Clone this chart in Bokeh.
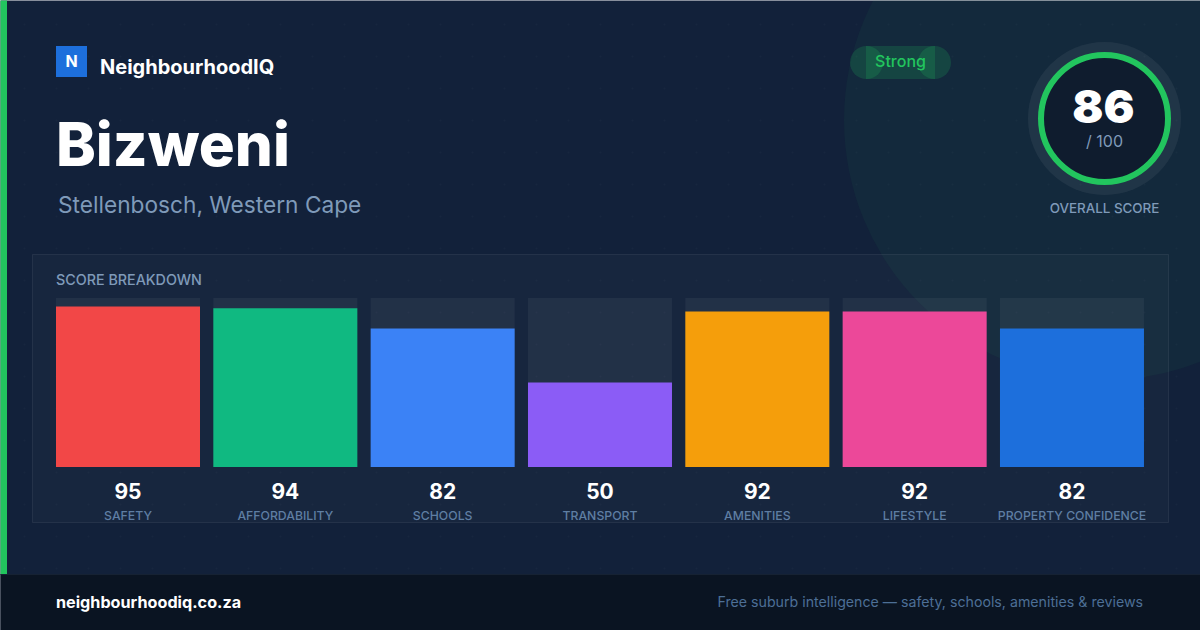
from bokeh.core.properties import value
from bokeh.embed import file_html
from bokeh.models import Range1d
from bokeh.plotting import figure
from bokeh.resources import INLINE
import numpy as np

# chart data
categories = ["SAFETY", "AFFORDABILITY", "SCHOOLS", "TRANSPORT", "AMENITIES", "LIFESTYLE", "PROPERTY CONFIDENCE"]
scores = [95, 94, 82, 50, 92, 92, 82]
bar_colors = ["#f24747", "#10b981", "#3b82f6", "#8b5cf6", "#f59e0b", "#ec4899", "#1d6fdc"]
track_max = [100, 100, 100, 100, 100, 100, 100]
overall = 86

W, H = 1200, 630
OFFSET = 0.5  # the photographed frame sits a little down and right
BAR_BOTTOM, BAR_TOP = 467, 298
px_per_point = (BAR_BOTTOM - BAR_TOP) / 100
FIRST_BAR, PITCH = 128, 157.33
slots = list(range(len(categories)))

# the page coordinates are the main ranges, bars get their own scales
p = figure(width=W, height=H, output_backend="svg", toolbar_location=None,
           x_range=Range1d(OFFSET, W + OFFSET), y_range=Range1d(H + OFFSET, OFFSET),
           min_border=0, outline_line_color=None)
p.axis.visible = False
p.grid.visible = False
p.background_fill_color = "#12213a"
p.border_fill_color = "#12213a"

p.extra_x_ranges = {"slot": Range1d((OFFSET - FIRST_BAR) / PITCH, (W + OFFSET - FIRST_BAR) / PITCH)}
p.extra_y_ranges = {"score": Range1d((BAR_BOTTOM - H - OFFSET) / px_per_point, (BAR_BOTTOM - OFFSET) / px_per_point)}


def txt(x, y, s, size, color, font="Inter", style="normal", align="left", **kw):
    # alphabetic baseline lands about 0.4em low in the svg output
    p.text(x=[x], y=[y - 0.4 * size], text=[s], text_font=value(font), text_font_size=f"{size}px",
           text_font_style=style, text_color=color, text_align=align,
           text_baseline="alphabetic", **kw)


# backdrop: big tinted circle, dot pattern
p.circle(x=[1104], y=[120], radius=260, fill_color="#22c55e", fill_alpha=0.05, line_color=None)
dx, dy = np.meshgrid(np.arange(24, W, 32), np.arange(24, 574, 32))
p.rect(x=dx.ravel() + 0.5, y=dy.ravel() + 0.5, width=2, height=2, fill_color="#ffffff", fill_alpha=0.025, line_color=None)

# green stripe and footer
p.quad(left=[0], right=[7], top=[0], bottom=[574], fill_color="#22c55e", line_color=None)
p.quad(left=[0], right=[W + OFFSET], top=[574], bottom=[H + OFFSET], fill_color="#0a1422", line_color=None)
p.quad(left=[0], right=[W + OFFSET], top=[574], bottom=[575], fill_color="#162233", line_color=None)

# header
p.quad(left=[56], right=[87], top=[46], bottom=[77], fill_color="#1d6fdc", line_color=None)
txt(71.5, 67, "N", 16, "#ffffff", style="bold", align="center")
txt(100, 75, "NeighbourhoodIQ", 20, "#ffffff", style="bold")
txt(56, 168, "Bizweni", 60, "#ffffff", font="Inter ExtraBold")
txt(58, 214, "Stellenbosch, Western Cape", 22.7, "#7f9ab9")

# badge
p.quad(left=[866], right=[935], top=[46], bottom=[79], fill_color="#22c55e", fill_alpha=0.18, line_color=None)
p.circle(x=[866.5, 934.5], y=[62.5, 62.5], radius=16.5, fill_color="#22c55e", fill_alpha=0.18, line_color=None)
txt(900.5, 67, "Strong", 16, "#22c55e", font="Inter Medium", align="center")

# score ring
p.circle(x=[1104.5], y=[118.5], radius=76.5, fill_color="#ffffff", fill_alpha=0.06, line_color=None)
p.circle(x=[1104.5], y=[118.5], radius=63.5, fill_color="#0f1c2e", line_color="#22c55e", line_width=6)
txt(1103.5, 124.5, str(overall), 46, "#ffffff", font="Inter Black", align="center")
txt(1104.5, 147, "/ 100", 16, "#7f9ab9", align="center")
txt(1104.5, 213, "OVERALL SCORE", 13.4, "#7f9ab9", font="Inter Medium", align="center")

# panel
p.quad(left=[32.5], right=[1168.5], top=[254.5], bottom=[522.5], fill_color="#ffffff", fill_alpha=0.025,
       line_color="#ffffff", line_alpha=0.07, line_width=1)
txt(56, 285, "SCORE BREAKDOWN", 14.3, "#7f9ab9", font="Inter Medium")

# bars
p.vbar(x=slots, top=track_max, bottom=0, width=144 / PITCH, x_range_name="slot", y_range_name="score",
       fill_color="#ffffff", fill_alpha=0.05, line_color=None)
p.vbar(x=slots, top=scores, bottom=0, width=144 / PITCH, x_range_name="slot", y_range_name="score",
       fill_color=bar_colors, line_color=None)
p.text(x=slots, y=[499 - 0.4 * 21] * 7, text=[str(s) for s in scores], x_range_name="slot", text_font=value("Inter"),
       text_font_size="21px", text_font_style="bold", text_color="#ffffff", text_align="center",
       text_baseline="alphabetic")
p.text(x=slots, y=[520 - 0.4 * 12.25] * 7, text=categories, x_range_name="slot", text_font=value("Inter Medium"),
       text_font_size="12.25px", text_color="#5f7ea3", text_align="center", text_baseline="alphabetic")

# footer text
txt(56, 608, "neighbourhoodiq.co.za", 16.2, "#ffffff", style="bold")
txt(1143, 607, "Free suburb intelligence \u2014 safety, schools, amenities & reviews", 14.2, "#4d6f96", align="right")

open("out.html", "w").write(file_html(p, INLINE))
